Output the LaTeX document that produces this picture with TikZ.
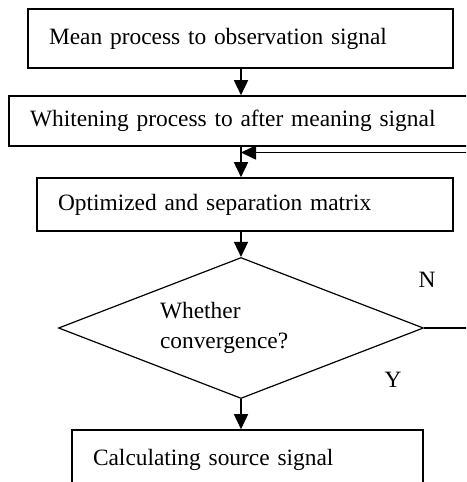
\documentclass[tikz,border=0pt]{standalone}
\usepackage{fontspec}
\setmainfont{Liberation Serif}
\usetikzlibrary{shapes.geometric, positioning, arrows.meta, calc}

\begin{document}
\begin{tikzpicture}[
    x=1pt, y=-1pt,
    font=\fontsize{23.4}{30}\selectfont,
    process/.style={draw, rectangle, line width=1.6pt, align=left, inner xsep=21pt, inner ysep=0pt},
    decision/.style={draw, diamond, line width=1.2pt, aspect=2.6, inner sep=0pt, minimum width=365pt, minimum height=141pt, text width=162pt, align=left},
    flow/.style={line width=1.6pt, -{Triangle[length=15pt, width=14pt]}},
    branch/.style={inner sep=0pt}
]
    \useasboundingbox (0,0) rectangle (466,482);
    \clip (0,0) rectangle (466,482);

    % Steps
    \node[process, minimum width=425pt, minimum height=59pt, text width=383pt] (mean) at (240.5,38.5) {Mean process to observation signal};
    \node[process, minimum width=464pt, minimum height=50pt, text width=422pt] (whiten) at (241,121) {Whitening process to after meaning signal};
    \node[process, minimum width=416pt, minimum height=53pt, text width=374pt] (optim) at (245,204.5) {Optimized and separation matrix};
    \node[decision] (conv) at (241,328) {Whether\\convergence?};
    \node[process, minimum width=351pt, minimum height=59pt, text width=309pt] (calc) at (247.5,459.5) {Calculating source signal};

    % Branch labels
    \node[branch] (no) at (427,280) {N};
    \node[branch] (yes) at (393,380) {Y};

    % Connections
    \coordinate (back) at (241,152.5);
    \draw[flow] (mean.south -| whiten.north) -- (whiten.north);
    \draw[flow] (whiten.south) -- (whiten.south |- optim.north);
    \draw[flow] (optim.north -| conv.north) ++(0,53) -- (conv.north);
    \draw[flow] (conv.south) -- (conv.south |- calc.north);
    \draw[flow] (conv.east) -- ++(60,0) |- (back);
\end{tikzpicture}
\end{document}
